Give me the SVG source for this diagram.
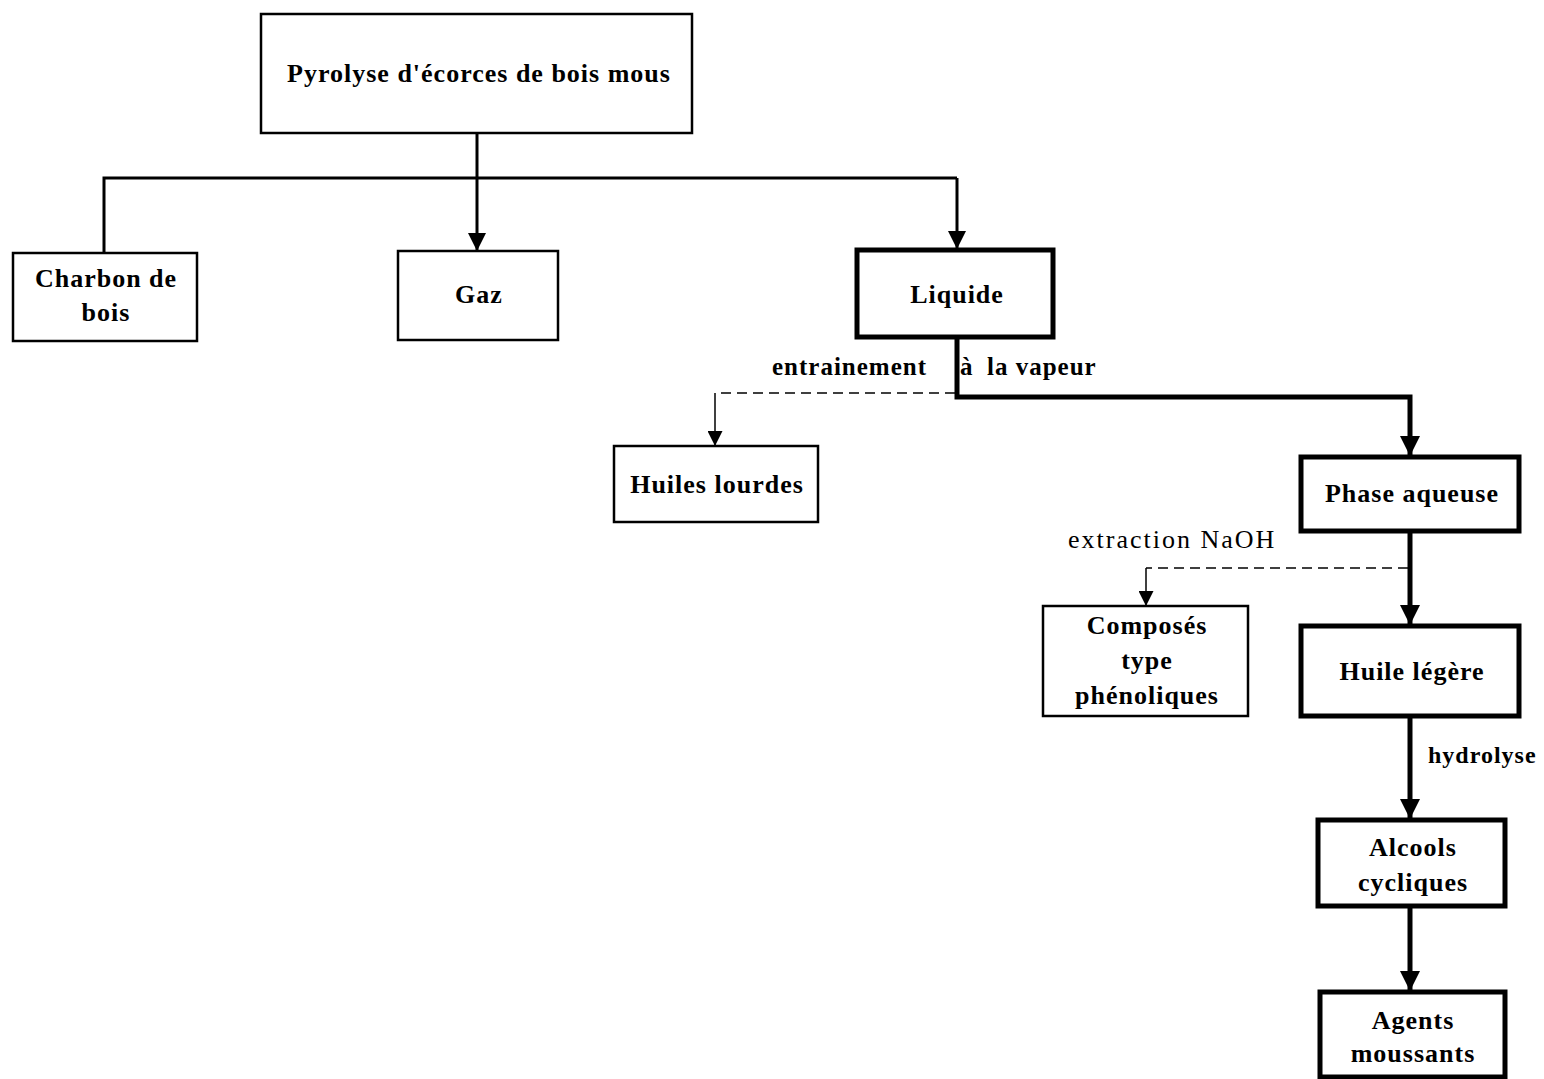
<svg xmlns="http://www.w3.org/2000/svg" width="1544" height="1079" viewBox="0 0 1544 1079">
<style>
.box{fill:#fff;stroke:#000;stroke-width:2.5}
.thick{stroke-width:5}
.t{font-family:"Liberation Serif","Times New Roman",serif;font-weight:bold;font-size:26px;letter-spacing:1px;fill:#000;text-anchor:middle}
.lbl{font-family:"Liberation Serif","Times New Roman",serif;font-weight:bold;font-size:25px;letter-spacing:1px;fill:#000}
.lblr{font-family:"Liberation Serif","Times New Roman",serif;font-size:26px;letter-spacing:2px;fill:#000}
.c{fill:none;stroke:#000;stroke-width:3}
.ct{fill:none;stroke:#000;stroke-width:5}
.cd{fill:none;stroke:#000;stroke-width:1.5;stroke-dasharray:10 6}
.cn{fill:none;stroke:#000;stroke-width:1.5}
</style>
<defs>
<marker id="ah" markerWidth="6" markerHeight="6" refX="6" refY="3" orient="auto" markerUnits="strokeWidth"><path d="M0,0 L6,3 L0,6 Z" fill="#000"/></marker>
<marker id="ahT" markerWidth="4" markerHeight="4" refX="4" refY="2" orient="auto" markerUnits="strokeWidth"><path d="M0,0 L4,2 L0,4 Z" fill="#000"/></marker>
<marker id="ahN" markerWidth="10" markerHeight="10" refX="10" refY="5" orient="auto" markerUnits="strokeWidth"><path d="M0,0 L10,5 L0,10 Z" fill="#000"/></marker>
</defs>
<g id="connectors">
<line class="c" x1="477" y1="133" x2="477" y2="251" marker-end="url(#ah)"/>
<polyline class="c" points="104,253 104,178 957,178"/>
<line class="c" x1="957" y1="178" x2="957" y2="249" marker-end="url(#ah)"/>
<polyline class="ct" points="957,337 957,397 1410,397 1410,456" marker-end="url(#ahT)"/>
<polyline class="cd" points="955,393 715,393"/>
<line class="cn" x1="715" y1="393" x2="715" y2="446" marker-end="url(#ahN)"/>
<line class="ct" x1="1410" y1="531" x2="1410" y2="625" marker-end="url(#ahT)"/>
<polyline class="cd" points="1408,568 1146,568"/>
<line class="cn" x1="1146" y1="568" x2="1146" y2="606" marker-end="url(#ahN)"/>
<line class="ct" x1="1410" y1="716" x2="1410" y2="819" marker-end="url(#ahT)"/>
<line class="ct" x1="1410" y1="906" x2="1410" y2="991" marker-end="url(#ahT)"/>
<text class="lbl" x="772" y="375">entrainement</text>
<text class="lbl" x="960" y="375">à</text>
<text class="lbl" x="987" y="375">la vapeur</text>
<text class="lblr" x="1068" y="548">extraction NaOH</text>
<text class="lbl" x="1428" y="763" style="font-size:24px">hydrolyse</text>
</g>
<g id="pyrolyse"><rect class="box" x="261" y="14" width="431" height="119"/><text class="t" x="479" y="82">Pyrolyse d'écorces de bois mous</text></g>
<g id="charbon"><rect class="box" x="13" y="253" width="184" height="88"/><text class="t" x="106" y="287">Charbon de</text><text class="t" x="106" y="321">bois</text></g>
<g id="gaz"><rect class="box" x="398" y="251" width="160" height="89"/><text class="t" x="479" y="303">Gaz</text></g>
<g id="liquide"><rect class="box thick" x="857" y="250" width="196" height="87"/><text class="t" x="957" y="303">Liquide</text></g>
<g id="huiles-lourdes"><rect class="box" x="614" y="446" width="204" height="76"/><text class="t" x="717" y="493">Huiles lourdes</text></g>
<g id="phase-aqueuse"><rect class="box thick" x="1301" y="457" width="218" height="74"/><text class="t" x="1412" y="502">Phase aqueuse</text></g>
<g id="composes"><rect class="box" x="1043" y="606" width="205" height="110"/><text class="t" x="1147" y="634">Composés</text><text class="t" x="1147" y="669">type</text><text class="t" x="1147" y="704">phénoliques</text></g>
<g id="huile-legere"><rect class="box thick" x="1301" y="626" width="218" height="90"/><text class="t" x="1412" y="680">Huile légère</text></g>
<g id="alcools"><rect class="box thick" x="1318" y="820" width="187" height="86"/><text class="t" x="1413" y="856">Alcools</text><text class="t" x="1413" y="891">cycliques</text></g>
<g id="agents"><rect class="box thick" x="1320" y="992" width="185" height="85"/><text class="t" x="1413" y="1029">Agents</text><text class="t" x="1413" y="1062">moussants</text></g>
</svg>
